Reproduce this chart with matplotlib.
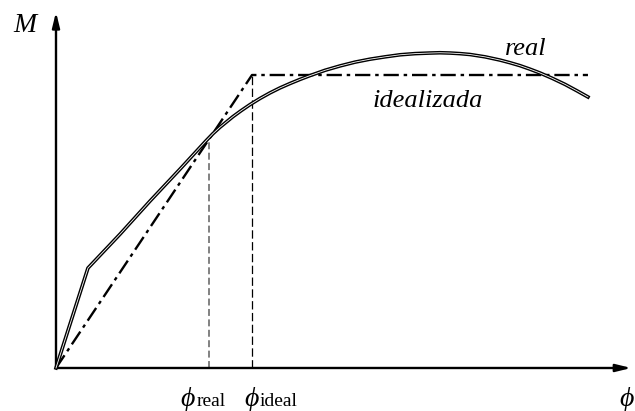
import matplotlib
matplotlib.use("Agg")
import matplotlib.pyplot as plt

# Moment-curvature diagram: measured (real) curve and bilinear idealisation.
# Curvature is normalised by phi_ideal, moment by the idealised plastic moment.
phi_real_curve = [0.0, 0.163, 0.327, 0.480, 0.633, 0.765, 0.801, 0.837, 0.903,
                  0.944, 0.990, 1.041, 1.092, 1.143, 1.194, 1.245, 1.296, 1.372,
                  1.449, 1.526, 1.602, 1.679, 1.755, 1.832, 1.908, 1.959, 2.010,
                  2.061, 2.112, 2.189, 2.265, 2.316, 2.367, 2.418, 2.469, 2.531,
                  2.597, 2.658, 2.714]
m_real_curve = [0.0, 0.341, 0.457, 0.570, 0.679, 0.775, 0.800, 0.822, 0.858,
                0.878, 0.899, 0.920, 0.939, 0.956, 0.971, 0.985, 0.998, 1.016,
                1.031, 1.044, 1.054, 1.062, 1.069, 1.073, 1.075, 1.076, 1.075,
                1.073, 1.070, 1.062, 1.051, 1.042, 1.032, 1.020, 1.007, 0.989,
                0.968, 0.946, 0.925]

phi_ideal_curve = [0.0, 1.0, 2.714]
m_ideal_curve = [0.0, 1.0, 1.0]

phi_real = 0.781
phi_ideal = 1.0

plt.rcParams["lines.scale_dashes"] = False
serif = ["Liberation Serif", "DejaVu Serif"]

fig = plt.figure(figsize=(6.35, 4.11), dpi=100)
ax = fig.add_axes([0, 0, 1, 1])
ax.set_xlim(-0.2857, 2.954)
ax.set_ylim(-0.1468, 1.256)
ax.axis("off")

# axes with arrow heads
arrow = dict(arrowstyle="-|>,head_length=0.9,head_width=0.22", lw=1.7,
             color="black", shrinkA=0, shrinkB=0)
ax.annotate("", xy=(0, 1.215), xytext=(0, 0), arrowprops=arrow)
ax.annotate("", xy=(2.935, 0), xytext=(0, 0), arrowprops=arrow)

# real curve drawn as a double line
ax.plot(phi_real_curve, m_real_curve, color="black", lw=2.6,
        solid_joinstyle="round", zorder=4)
ax.plot(phi_real_curve, m_real_curve, color="white", lw=0.6,
        solid_joinstyle="round", zorder=5)

# idealised bilinear curve
ax.plot(phi_ideal_curve, m_ideal_curve, color="black", lw=1.7,
        dashes=(11, 3.5, 2.5, 3.5), zorder=3)

# reference curvatures
ax.plot([phi_real, phi_real], [0, phi_real * m_ideal_curve[1]],
        color="#777777", lw=1.3, dashes=(5, 2.5), zorder=2)
ax.plot([phi_ideal, phi_ideal], [0, m_ideal_curve[1]],
        color="black", lw=0.9, dashes=(6, 2.5), zorder=2)

ax.text(-0.219, 1.147, "M", family=serif, style="italic", fontsize=20,
        ha="left", va="baseline")
ax.text(2.291, 1.068, "real", family=serif, style="italic", fontsize=19,
        ha="left", va="baseline")
ax.text(1.617, 0.891, "idealizada", family=serif, style="italic", fontsize=19,
        ha="left", va="baseline")

for x0, sub in [(phi_real - 0.148, "real"), (phi_ideal - 0.041, "ideal")]:
    ax.text(x0, -0.130, "ϕ", family=serif, style="italic", fontsize=20,
            ha="left", va="baseline")
    ax.text(x0 + 0.082, -0.130, sub, family=serif, fontsize=14,
            ha="left", va="baseline")
ax.text(2.872, -0.130, "ϕ", family=serif, style="italic", fontsize=20,
        ha="left", va="baseline")

fig.savefig("out.png", dpi=100)
